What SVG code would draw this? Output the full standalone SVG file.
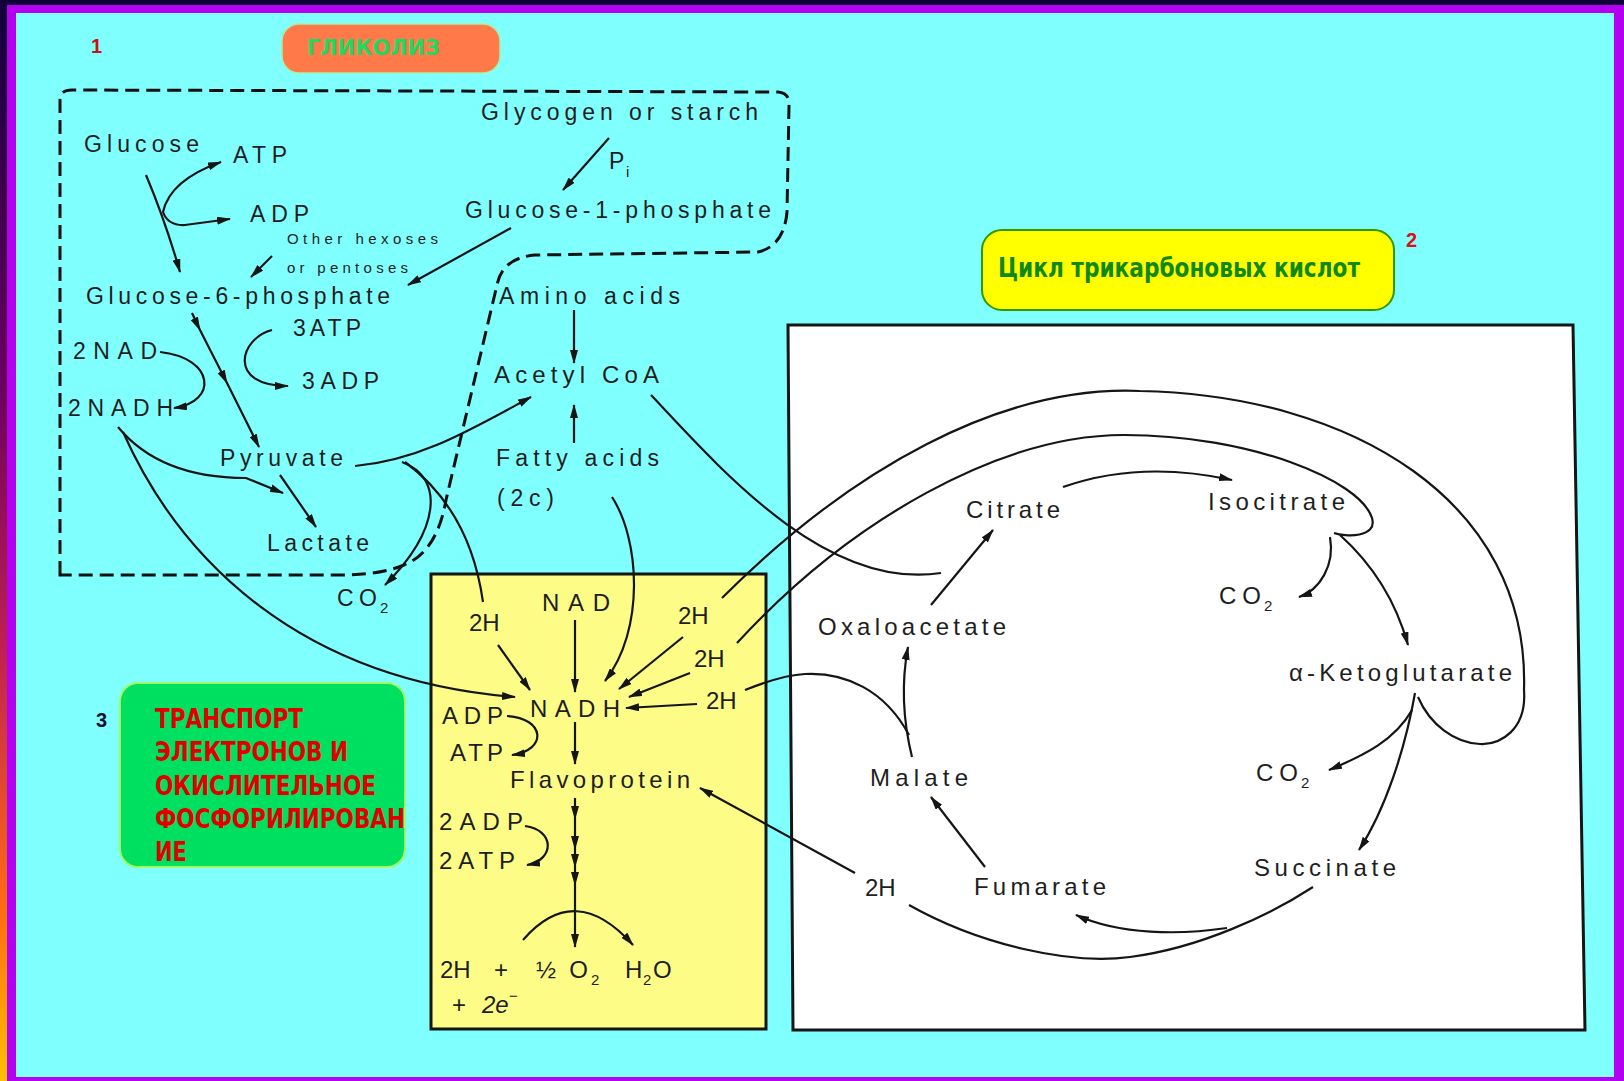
<svg xmlns="http://www.w3.org/2000/svg" width="1624" height="1081" viewBox="0 0 1624 1081">
<style>
.t{font-family:"Liberation Sans",Arial,sans-serif;font-size:23px;fill:#1e1e1e}
.m{font-size:24px}
.k{font-size:24px}
.sm{font-size:15px}
.sb{font-size:15px}
.ru{font-family:"DejaVu Sans Condensed","DejaVu Sans","Liberation Sans",sans-serif;font-weight:bold;font-stretch:condensed}
.ln{fill:none;stroke:#151515;stroke-width:2.2}
.a{marker-end:url(#ah)}
.mid{marker-mid:url(#ah)}
.dash{fill:none;stroke:#111;stroke-width:3;stroke-dasharray:14 7}
</style>
<defs>
<linearGradient id="lg" x1="0" y1="0" x2="0" y2="1">
<stop offset="0" stop-color="#10003a"/>
<stop offset="0.35" stop-color="#6a0060"/>
<stop offset="0.6" stop-color="#c02050"/>
<stop offset="0.85" stop-color="#ff7010"/>
<stop offset="1" stop-color="#ffc000"/>
</linearGradient>
<marker id="ah" viewBox="0 0 14 8" refX="13" refY="4" markerWidth="14" markerHeight="8" markerUnits="userSpaceOnUse" orient="auto">
<path d="M0,0 L14,4 L0,8 z" fill="#151515"/>
</marker>
</defs>

<g id="frame">
<rect x="0" y="0" width="1624" height="1081" fill="#10003a"/>
<rect x="0" y="0" width="7" height="1081" fill="url(#lg)"/>
<rect x="7" y="5" width="1617" height="1076" fill="#b400f0"/>
<rect x="16" y="13" width="1598" height="1064" fill="#80ffff"/>
</g>

<g id="glycolysis-box">
<path class="dash" d="M 60,575 L 60,100 Q 60,90 72,90 L 778,92 Q 790,93 789,106 L 787,212 Q 784,246 758,252 L 535,255 Q 502,258 497,285 L 446,500 Q 437,552 404,565 Q 380,575 340,575 Z"/>
</g>

<g id="transport-box">
<rect x="431" y="574" width="335" height="455" fill="#fcfc86" stroke="#151515" stroke-width="3"/>
</g>

<g id="tca-box">
<polygon points="788,325 1573,325 1585,1030 793,1030" fill="#ffffff" stroke="#151515" stroke-width="3"/>
</g>

<g id="label-1">
<text x="91" y="53" font-family="Liberation Sans,Arial,sans-serif" font-weight="bold" font-size="20" fill="#cc1010">1</text>
</g>
<g id="label-glycolysis">
<rect x="282" y="24" width="218" height="49" rx="17" fill="#ff7a48" stroke="#a8f0a0" stroke-width="1.5"/>
<text class="ru" x="307" y="55" font-size="21" fill="#22d860" textLength="133" lengthAdjust="spacingAndGlyphs">ГЛИКОЛИЗ</text>
</g>

<g id="label-2">
<text x="1406" y="247" font-family="Liberation Sans,Arial,sans-serif" font-weight="bold" font-size="20" fill="#dd1010">2</text>
</g>
<g id="label-tca">
<rect x="982" y="230" width="412" height="80" rx="20" fill="#ffff00" stroke="#339900" stroke-width="2"/>
<text class="ru" x="998" y="277" font-size="26" fill="#118811" textLength="362" lengthAdjust="spacingAndGlyphs">Цикл трикарбоновых кислот</text>
</g>

<g id="label-3">
<text x="96" y="727" font-family="Liberation Sans,Arial,sans-serif" font-weight="bold" font-size="20" fill="#101030">3</text>
</g>
<g id="label-transport">
<rect x="120" y="683" width="285" height="184" rx="18" fill="#00e060" stroke="#a0ff60" stroke-width="2"/>
<text class="ru" x="155" y="728" font-size="27" fill="#e00000" textLength="148" lengthAdjust="spacingAndGlyphs">ТРАНСПОРТ</text>
<text class="ru" x="155" y="761" font-size="27" fill="#e00000" textLength="193" lengthAdjust="spacingAndGlyphs">ЭЛЕКТРОНОВ И</text>
<text class="ru" x="155" y="795" font-size="27" fill="#e00000" textLength="221" lengthAdjust="spacingAndGlyphs">ОКИСЛИТЕЛЬНОЕ</text>
<text class="ru" x="155" y="828" font-size="27" fill="#e00000" textLength="250" lengthAdjust="spacingAndGlyphs">ФОСФОРИЛИРОВАН</text>
<text class="ru" x="155" y="861" font-size="27" fill="#e00000" textLength="32" lengthAdjust="spacingAndGlyphs">ИЕ</text>
</g>

<g id="connectors">
<!-- glycolysis -->
<path class="ln a" d="M 146,175 Q 165,220 180,272"/>
<path class="ln a" d="M 163,212 Q 170,180 221,162"/>
<path class="ln a" d="M 163,212 Q 168,226 185,225 L 230,219"/>
<path class="ln a" d="M 609,138 L 563,190"/>
<path class="ln a" d="M 511,228 L 408,285"/>
<path class="ln a" d="M 272,256 L 251,277"/>
<path class="ln a mid" d="M 192,313 L 200,330 L 227,383 L 259,447"/>
<path class="ln a" d="M 272,330 C 240,338 226,386 288,386"/>
<path class="ln a" d="M 160,352 C 215,358 218,402 174,408"/>
<path class="ln a" d="M 118,427 Q 160,478 246,478 L 283,493"/>
<path class="ln a" d="M 280,475 L 316,527"/>
<path class="ln a" d="M 123,432 C 180,560 300,680 515,697"/>
<path class="ln a" d="M 355,466 C 420,460 470,430 531,397"/>
<path class="ln a" d="M 402,462 C 445,478 440,530 385,585"/>
<path class="ln" d="M 405,462 Q 470,510 483,602"/>
<path class="ln a" d="M 574,310 L 574,363"/>
<path class="ln a" d="M 574,443 L 574,405"/>
<path class="ln a" d="M 612,497 C 640,540 645,630 605,681"/>
<path class="ln" d="M 651,395 C 730,480 830,590 941,573"/>
<!-- transport chain -->
<path class="ln a" d="M 575,620 L 575,692"/>
<path class="ln a" d="M 498,645 L 530,690"/>
<path class="ln a" d="M 683,637 L 619,689"/>
<path class="ln a" d="M 690,673 L 629,697"/>
<path class="ln a" d="M 697,704 L 626,708"/>
<path class="ln a" d="M 507,716 C 545,718 548,750 512,755"/>
<path class="ln a" d="M 575,722 L 575,764"/>
<path class="ln a mid" d="M 575,798 L 575,819 L 575,849 L 575,867 L 575,885 L 575,947"/>
<path class="ln a" d="M 525,826 C 555,830 555,860 527,865"/>
<path class="ln a" d="M 523,940 Q 575,880 633,945"/>
<!-- TCA -->
<path class="ln a" d="M 931,605 L 993,530"/>
<path class="ln a" d="M 1063,487 Q 1140,460 1232,480"/>
<path class="ln" d="M 722,598 C 850,470 1000,385 1140,391 C 1350,395 1530,500 1524,690 C 1527,730 1500,745 1480,744 C 1455,743 1430,725 1418,697"/>
<path class="ln" d="M 737,643 C 850,520 1000,435 1124,435 C 1250,435 1360,480 1372,518 C 1378,538 1345,537 1334,533"/>
<path class="ln a" d="M 1340,535 Q 1390,580 1408,645"/>
<path class="ln a" d="M 1330,537 C 1335,565 1320,590 1299,597"/>
<path class="ln a" d="M 912,757 Q 898,700 908,647"/>
<path class="ln" d="M 909,735 C 885,690 845,672 805,674 C 785,675 765,682 745,690"/>
<path class="ln a" d="M 985,867 L 931,797"/>
<path class="ln a" d="M 855,873 L 700,788"/>
<path class="ln" d="M 909,905 C 980,945 1070,965 1130,957 C 1200,948 1270,915 1313,887"/>
<path class="ln a" d="M 1227,928 C 1180,935 1120,935 1076,915"/>
<path class="ln a" d="M 1415,693 C 1405,750 1385,810 1359,850"/>
<path class="ln a" d="M 1412,710 C 1395,740 1365,755 1329,770"/>
</g>

<g id="n-glucose"><text class="t" x="84" y="152" textLength="115" lengthAdjust="spacing">Glucose</text></g>
<g id="n-atp1"><text class="t" x="233" y="163" textLength="54" lengthAdjust="spacing">ATP</text></g>
<g id="n-adp1"><text class="t" x="250" y="222" textLength="59" lengthAdjust="spacing">ADP</text></g>
<g id="n-hexoses">
<text class="t sm" x="287" y="244" textLength="151" lengthAdjust="spacing">Other hexoses</text>
<text class="t sm" x="287" y="273" textLength="121" lengthAdjust="spacing">or pentoses</text>
</g>
<g id="n-glycogen"><text class="t" x="481" y="120" textLength="277" lengthAdjust="spacing">Glycogen or starch</text></g>
<g id="n-pi"><text class="t" x="609" y="169">P</text><text class="t sb" x="626" y="177">i</text></g>
<g id="n-g1p"><text class="t" x="465" y="218" textLength="306" lengthAdjust="spacing">Glucose-1-phosphate</text></g>
<g id="n-g6p"><text class="t" x="86" y="304" textLength="304" lengthAdjust="spacing">Glucose-6-phosphate</text></g>
<g id="n-amino"><text class="t" x="499" y="304" textLength="181" lengthAdjust="spacing">Amino acids</text></g>
<g id="n-3atp"><text class="t" x="293" y="336" textLength="68" lengthAdjust="spacing">3ATP</text></g>
<g id="n-2nad"><text class="t" x="73" y="359" textLength="84" lengthAdjust="spacing">2NAD</text></g>
<g id="n-3adp"><text class="t" x="302" y="389" textLength="77" lengthAdjust="spacing">3ADP</text></g>
<g id="n-acetyl"><text class="t m" x="494" y="383" textLength="165" lengthAdjust="spacing">Acetyl CoA</text></g>
<g id="n-2nadh"><text class="t" x="68" y="416" textLength="105" lengthAdjust="spacing">2NADH</text></g>
<g id="n-pyruvate"><text class="t" x="220" y="466" textLength="123" lengthAdjust="spacing">Pyruvate</text></g>
<g id="n-fatty">
<text class="t" x="496" y="466" textLength="163" lengthAdjust="spacing">Fatty acids</text>
<text class="t" x="497" y="506" textLength="57" lengthAdjust="spacing">(2c)</text>
</g>
<g id="n-lactate"><text class="t" x="267" y="551" textLength="102" lengthAdjust="spacing">Lactate</text></g>
<g id="n-co2a"><text class="t" x="337" y="606" textLength="40" lengthAdjust="spacing">CO</text><text class="t sb" x="380" y="613">2</text></g>

<g id="n-nad"><text class="t m" x="542" y="611" textLength="68" lengthAdjust="spacing">NAD</text></g>
<g id="n-2h-a"><text class="t m" x="469" y="631">2H</text></g>
<g id="n-2h-b"><text class="t m" x="678" y="624">2H</text></g>
<g id="n-2h-c"><text class="t m" x="694" y="667">2H</text></g>
<g id="n-2h-d"><text class="t m" x="706" y="709">2H</text></g>
<g id="n-nadh"><text class="t m" x="530" y="717" textLength="90" lengthAdjust="spacing">NADH</text></g>
<g id="n-adp2"><text class="t m" x="442" y="724" textLength="61" lengthAdjust="spacing">ADP</text></g>
<g id="n-atp2"><text class="t m" x="450" y="761" textLength="53" lengthAdjust="spacing">ATP</text></g>
<g id="n-flavo"><text class="t m" x="510" y="788" textLength="180" lengthAdjust="spacing">Flavoprotein</text></g>
<g id="n-2adp"><text class="t m" x="439" y="830" textLength="84" lengthAdjust="spacing">2ADP</text></g>
<g id="n-2atp"><text class="t m" x="439" y="869" textLength="76" lengthAdjust="spacing">2ATP</text></g>
<g id="n-water">
<text class="t m" x="440" y="978">2H</text>
<text class="t m" x="494" y="978">+</text>
<text class="t m" x="536" y="978" textLength="52" lengthAdjust="spacing">½O</text>
<text class="t sb" x="591" y="985">2</text>
<text class="t m" x="625" y="978">H</text>
<text class="t sb" x="643" y="985">2</text>
<text class="t m" x="653" y="978">O</text>
<text class="t m" x="452" y="1013">+</text>
<text class="t m" x="482" y="1013" font-style="italic">2e</text>
<text class="t sb" x="509" y="1001">−</text>
</g>

<g id="n-citrate"><text class="t k" x="966" y="518" textLength="94" lengthAdjust="spacing">Citrate</text></g>
<g id="n-isocitrate"><text class="t k" x="1208" y="510" textLength="137" lengthAdjust="spacing">Isocitrate</text></g>
<g id="n-co2b"><text class="t k" x="1219" y="604" textLength="42" lengthAdjust="spacing">CO</text><text class="t sb" x="1264" y="611">2</text></g>
<g id="n-oxalo"><text class="t k" x="818" y="635" textLength="188" lengthAdjust="spacing">Oxaloacetate</text></g>
<g id="n-akg"><text class="t k" x="1289" y="681" textLength="223" lengthAdjust="spacing">α-Ketoglutarate</text></g>
<g id="n-malate"><text class="t k" x="870" y="786" textLength="98" lengthAdjust="spacing">Malate</text></g>
<g id="n-co2c"><text class="t k" x="1256" y="781" textLength="42" lengthAdjust="spacing">CO</text><text class="t sb" x="1301" y="788">2</text></g>
<g id="n-succinate"><text class="t k" x="1254" y="876" textLength="142" lengthAdjust="spacing">Succinate</text></g>
<g id="n-2h-e"><text class="t k" x="865" y="896">2H</text></g>
<g id="n-fumarate"><text class="t k" x="974" y="895" textLength="132" lengthAdjust="spacing">Fumarate</text></g>
</svg>
